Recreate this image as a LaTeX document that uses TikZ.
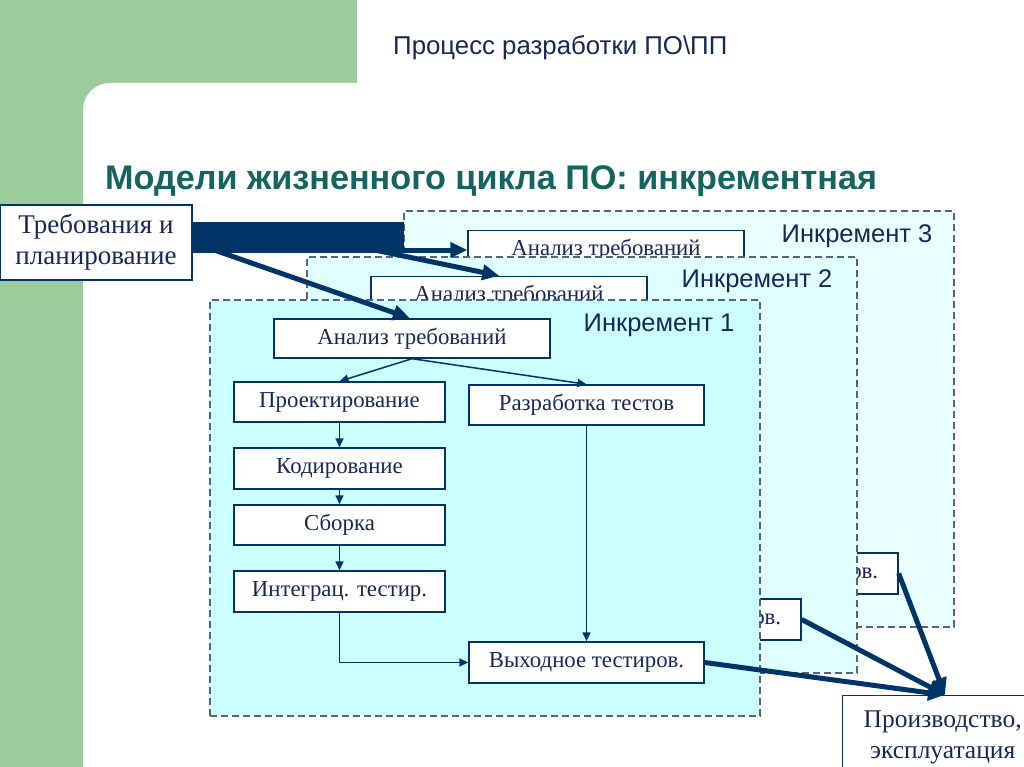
\documentclass[tikz,border=0pt]{standalone}
\usepackage{fontspec}
\setmainfont{Liberation Serif}
\newfontfamily\arialf{Liberation Sans}
\usetikzlibrary{arrows.meta,calc}
\definecolor{navy}{RGB}{0,51,102}
\definecolor{txtnavy}{RGB}{22,40,88}
\definecolor{titleteal}{RGB}{20,100,95}
\definecolor{bggreen}{RGB}{155,204,153}
\definecolor{incAfill}{RGB}{204,255,255}
\definecolor{incBfill}{RGB}{224,255,255}
\definecolor{incCfill}{RGB}{234,255,255}
\definecolor{dashgray}{RGB}{85,100,125}
\begin{document}
\begin{tikzpicture}[x=1pt,y=-1pt,
  box/.style={draw=navy,line width=1.4pt,fill=white,text=txtnavy,inner sep=0pt,
              font=\fontsize{22.8}{26}\selectfont},
  flow/.style={draw=navy,line width=1.5pt,-{Triangle[length=9pt,width=8pt]}},
  big/.style={draw=navy,line width=5pt,-{Triangle[length=17pt,width=15pt]}},
  incbox/.style={draw=dashgray,dash pattern=on 7pt off 4pt,line width=1.3pt,inner sep=0pt,
                 minimum width=550pt,minimum height=416pt},
  inclabel/.style={font=\arialf\fontsize{25.5}{30}\selectfont,text=txtnavy,inner sep=0pt},
  leftbox/.style={box,minimum width=211pt},
  rightbox/.style={box,minimum width=235pt},
  analbox/.style={box,minimum width=276pt,minimum height=39pt}
]
\useasboundingbox (0,0) rectangle (1024,767);
% background
\fill[white] (0,0) rectangle (1024,767);
\fill[bggreen] (0,0) rectangle (357,83);
\fill[bggreen] (0,0) rectangle (83,767);
\fill[bggreen] (83,83) rectangle (120,120);
\fill[white,rounded corners=27pt] (83,83) rectangle (1100,850);
% titles
\node[font=\arialf\fontsize{25.8}{30}\selectfont,text=txtnavy,anchor=west,inner sep=0pt] (t1) at (393,48) {Процесс разработки ПО\textbackslash ПП};
\node[font=\arialf\bfseries\fontsize{34.2}{40}\selectfont,text=titleteal,anchor=west,inner sep=0pt] (t2) at (105,181) {Модели жизненного цикла ПО: инкрементная};
% increment 3
\node[incbox,fill=incCfill] (inc3) at (679,419) {};
\node[inclabel] (lab3) at (857,236) {Инкремент 3};
\node[analbox] (anal3) at (606,250) {Анализ требований};
\node[rightbox,minimum height=41pt] (vyh3) at (780.5,573.5) {Выходное тестиров.};
% increment 2
\node[incbox,fill=incBfill] (inc2) at (582,465) {};
\node[inclabel] (lab2) at (757,281) {Инкремент 2};
\node[analbox] (anal2) at (509,296) {Анализ требований};
\node[rightbox,minimum height=41pt] (vyh2) at (683.5,619.5) {Выходное тестиров.};
% increment 1
\node[incbox,fill=incAfill] (inc1) at (485,508) {};
\node[inclabel] (lab1) at (659,325) {Инкремент 1};
\node[analbox] (anal1) at (412,338.5) {Анализ требований};
\node[leftbox,minimum height=40pt] (proj) at (339.5,402) {Проектирование};
\node[rightbox,minimum height=40pt] (razr) at (586.5,405) {Разработка тестов};
\node[leftbox,minimum height=41pt] (kod) at (339.5,468.5) {Кодирование};
\node[leftbox,minimum height=40pt] (sbor) at (339.5,525) {Сборка};
\node[leftbox,minimum height=41pt] (integ) at (339.5,591.5) {Интеграц. тестир.};
\node[rightbox,minimum height=41pt] (vyh1) at (586.5,662.5) {Выходное тестиров.};
\draw[flow] (anal1.south) -- (proj.north);
\draw[flow] (anal1.south) -- (razr.north);
\draw[flow] (proj.south) -- (kod.north);
\draw[flow] (kod.south) -- (sbor.north);
\draw[flow] (sbor.south) -- (integ.north);
\draw[flow] (integ.south) |- (vyh1.west);
\draw[flow] (razr.south) -- (vyh1.north);
% requirements
\node[box,font=\fontsize{27}{31}\selectfont,align=center,minimum width=192pt,minimum height=75pt] (req) at (96,242.5) {Требования и\\планирование};
\coordinate (barend) at (404,237.5);
\draw[big] (req.east) -- ($(anal1.north)+(-2,0)$);
\draw[big] ($(barend)+(-90,0)$) -- ($(anal2.north west)+(129,0)$);
\draw[navy,line width=31pt] (req.east |- barend) -- (barend);
\draw[big] (barend |- anal3.west) -- (anal3.west);
% production
\node[box,font=\fontsize{25.5}{31}\selectfont,align=center,minimum width=200pt,minimum height=84pt,anchor=north west] (prod) at (842,695) {Производство,\\эксплуатация};
\coordinate (tip) at ($(prod.north west)+(103,0)$);
\draw[big] (vyh1.east) -- (tip);
\draw[big] (vyh2.east) -- (tip);
\draw[big] (vyh3.east) -- (tip);
\end{tikzpicture}
\end{document}
